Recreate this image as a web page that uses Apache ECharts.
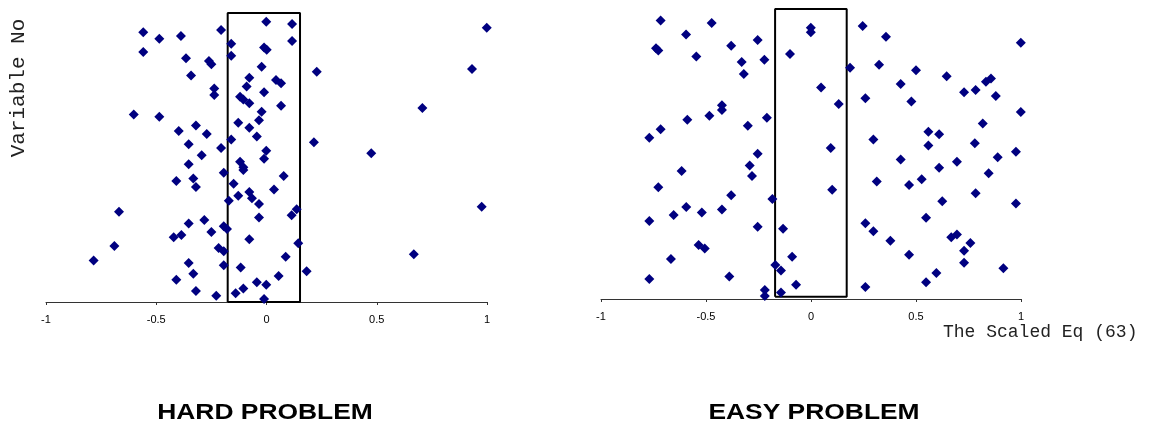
<!DOCTYPE html>
<html>
<head>
<meta charset="utf-8">
<title>Scaled Eq (63) by variable</title>
<script src="https://cdn.jsdelivr.net/npm/echarts@6/dist/echarts.min.js"></script>
<style>
  html, body { margin: 0; padding: 0; background: #fff; }
  #chart { width: 1152px; height: 428px; }
</style>
</head>
<body>
<div id="chart"></div>
<script>
// Scaled Eq (63) value of each variable (x) against its variable number (y, 0-100 scale)
const hardX = [
  -0.559,-0.486,-0.388,-0.206,-0.001,0.116,0.116,-0.160,-0.559,-0.365,
  -0.261,-0.250,-0.160,-0.011,0.001,-0.342,-0.022,-0.078,0.043,0.066,
  -0.237,-0.237,-0.090,-0.011,-0.120,-0.105,-0.078,-0.022,0.066,-0.602,
  -0.486,-0.128,-0.034,-0.320,-0.078,-0.398,-0.271,-0.044,-0.160,-0.353,
  -0.206,-0.001,-0.294,-0.011,-0.120,0.228,0.999,0.932,0.707,0.215,
  0.475,-0.353,-0.105,-0.105,-0.194,-0.409,-0.332,-0.320,0.078,-0.149,
  0.034,-0.078,-0.128,-0.066,-0.171,-0.034,-0.669,0.137,0.114,-0.034,
  -0.353,-0.282,-0.194,-0.179,-0.250,-0.421,-0.386,-0.078,0.144,-0.690,
  -0.217,-0.194,-0.784,-0.353,-0.194,-0.117,0.087,-0.332,0.055,-0.409,
  -0.044,-0.001,-0.105,-0.320,-0.140,-0.228,-0.011,0.182,0.976,0.668
];
const hardY = [
  93.3,91.1,92.0,94.1,97.0,96.2,90.3,89.4,86.5,84.3,
  83.4,82.3,85.2,88.1,87.3,78.4,81.4,77.6,76.8,75.7,
  73.9,71.6,74.6,72.6,71.0,70.1,68.8,65.8,67.9,64.9,
  64.1,62.0,62.9,61.1,60.3,59.2,58.1,57.3,56.2,54.6,
  53.3,52.3,50.8,49.6,48.5,79.7,94.9,80.6,67.1,55.3,
  51.5,47.7,46.6,45.7,44.7,41.9,42.7,39.8,43.6,40.9,
  38.9,38.1,36.8,35.9,35.0,33.9,31.2,32.1,30.0,29.2,
  27.2,28.4,26.2,25.3,24.2,22.4,23.2,21.7,20.3,19.4,
  18.7,17.6,14.4,13.5,12.7,11.9,15.7,9.8,9.0,7.7,
  6.8,6.0,4.7,3.8,3.0,2.2,1.0,10.6,33.0,16.5
];
const easyX = [
  -0.716,-0.473,-0.595,-0.738,-0.727,-0.546,-0.380,-0.254,-0.330,-0.222,
  -0.320,-0.100,-0.001,-0.001,0.048,-0.424,-0.424,-0.484,-0.589,-0.716,
  -0.770,-0.210,-0.301,-0.254,-0.292,-0.281,-0.616,-0.727,-0.380,-0.184,
  -0.770,-0.654,-0.594,-0.520,-0.424,-0.254,-0.133,-0.535,-0.506,-0.667,
  -0.090,-0.770,-0.389,-0.170,-0.143,-0.071,-0.220,-0.220,-0.143,0.246,
  0.357,0.999,0.186,0.324,0.500,0.646,0.427,0.259,0.478,0.729,
  0.784,0.833,0.857,0.880,0.999,0.132,0.818,0.559,0.610,0.559,
  0.780,0.297,0.094,0.427,0.695,0.889,0.976,0.101,0.313,0.610,
  0.467,0.527,0.846,0.784,0.625,0.976,0.548,0.259,0.297,0.378,
  0.668,0.695,0.759,0.729,0.729,0.467,0.916,0.597,0.548,0.259
];
const easyY = [
  96.0,95.2,91.2,86.5,85.7,83.6,87.3,89.3,81.7,82.5,
  77.6,84.5,93.5,92.0,72.9,66.8,65.2,63.2,61.8,58.5,
  55.6,62.5,59.7,50.1,46.0,42.4,44.1,38.5,35.8,34.5,
  26.9,29.0,31.7,29.8,30.9,24.9,24.2,18.6,17.4,13.8,
  14.6,6.9,7.8,11.7,9.8,4.9,3.1,1.0,2.2,94.1,
  90.4,88.4,79.7,80.8,78.9,76.8,74.1,69.2,68.1,71.3,
  72.1,74.9,76.0,70.0,64.5,67.2,60.5,57.7,56.8,52.9,
  53.7,55.0,52.1,48.1,47.3,48.9,50.8,37.7,40.5,45.3,
  39.3,41.3,43.4,36.5,33.7,32.9,28.0,26.1,23.4,20.1,
  21.3,22.2,19.3,16.6,12.5,15.3,10.6,9.0,5.8,4.1
];
// Band around zero: [left, right] in Scaled Eq units, [bottom, top] in variable scale
const hardBandX = [-0.176, 0.152];
const hardBandY = [0, 100];
const easyBandX = [-0.171, 0.170];
const easyBandY = [0.8, 100];

const tickValues = [-1, -0.5, 0, 0.5, 1];
const tickLabels = ['-1', '-0.5', '0', '0.5', '1'];
const panelTitles = ['HARD PROBLEM', 'EASY PROBLEM'];
const yAxisTitle = 'Variable No';
const xAxisTitle = 'The Scaled Eq (63)';

const zip = (xs, ys) => xs.map((x, i) => [x, ys[i]]);
const bandPath = (bx, by) => [
  [bx[0], by[0]], [bx[0], by[1]], [bx[1], by[1]], [bx[1], by[0]], [bx[0], by[0]]
];

const markerColor = '#000080';
const axisColor = '#333';

function makeXAxis(gridIndex) {
  return {
    gridIndex, type: 'value', min: -1, max: 1, interval: 0.5,
    axisLine: { show: true, onZero: false, lineStyle: { color: axisColor, width: 1 } },
    axisTick: { show: true, length: 3, lineStyle: { color: axisColor } },
    axisLabel: {
      color: '#000', fontFamily: 'Liberation Sans, Arial, sans-serif', fontSize: 11, margin: 12,
      formatter: v => {
        const i = tickValues.findIndex(t => Math.abs(t - v) < 1e-9);
        return i >= 0 ? tickLabels[i] : '';
      }
    },
    splitLine: { show: false }
  };
}
function makeYAxis(gridIndex) {
  return { gridIndex, type: 'value', min: 0, max: 100, show: false };
}

const chart = echarts.init(document.getElementById('chart'), null, { renderer: 'canvas' });
chart.setOption({
  animation: false,
  backgroundColor: '#fff',
  grid: [
    { left: 46, top: 13, width: 441, height: 289 },
    { left: 601, top: 9, width: 420, height: 290 }
  ],
  xAxis: [makeXAxis(0), makeXAxis(1)],
  yAxis: [makeYAxis(0), makeYAxis(1)],
  series: [
    {
      type: 'line', xAxisIndex: 0, yAxisIndex: 0, data: bandPath(hardBandX, hardBandY),
      symbol: 'none', clip: false, z: 1,
      lineStyle: { color: '#000', width: 2 }
    },
    {
      type: 'line', xAxisIndex: 1, yAxisIndex: 1, data: bandPath(easyBandX, easyBandY),
      symbol: 'none', clip: false, z: 1,
      lineStyle: { color: '#000', width: 2 }
    },
    {
      type: 'scatter', xAxisIndex: 0, yAxisIndex: 0, data: zip(hardX, hardY),
      symbol: 'diamond', symbolSize: 10, z: 3,
      itemStyle: { color: markerColor, opacity: 1 }
    },
    {
      type: 'scatter', xAxisIndex: 1, yAxisIndex: 1, data: zip(easyX, easyY),
      symbol: 'diamond', symbolSize: 10, z: 3,
      itemStyle: { color: markerColor, opacity: 1 }
    }
  ],
  graphic: [
    {
      type: 'text', x: 18, y: 88, rotation: Math.PI / 2,
      style: {
        text: yAxisTitle, font: '21px "Liberation Mono", "Courier New", monospace',
        fill: '#222', align: 'center', verticalAlign: 'middle'
      }
    },
    {
      type: 'text', x: 943, y: 332,
      style: {
        text: xAxisTitle, font: '18px "Liberation Mono", "Courier New", monospace',
        fill: '#222', align: 'left', verticalAlign: 'middle'
      }
    },
    {
      type: 'text', x: 265, y: 413, scaleX: 1.2,
      style: {
        text: panelTitles[0], font: 'bold 22px "Liberation Sans", Arial, sans-serif',
        fill: '#000', align: 'center', verticalAlign: 'middle'
      }
    },
    {
      type: 'text', x: 814, y: 413, scaleX: 1.2,
      style: {
        text: panelTitles[1], font: 'bold 22px "Liberation Sans", Arial, sans-serif',
        fill: '#000', align: 'center', verticalAlign: 'middle'
      }
    }
  ]
});
</script>
</body>
</html>
